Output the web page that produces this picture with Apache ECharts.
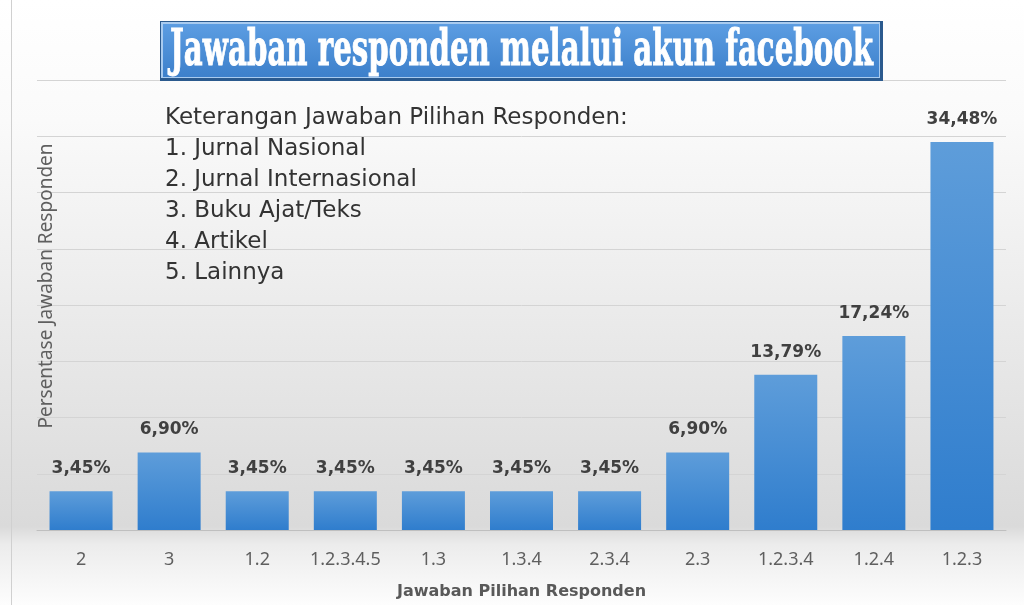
<!DOCTYPE html>
<html>
<head>
<meta charset="utf-8">
<script src="https://cdn.jsdelivr.net/npm/echarts@6/dist/echarts.min.js"></script>
<style>
  html, body { margin: 0; padding: 0; background: #fff; }
  #main { width: 1024px; height: 605px; }
</style>
</head>
<body>
<div id="main"></div>
<script>
// categories and percentages
const categories = ['2', '3', '1.2', '1.2.3.4.5', '1.3', '1.3.4', '2.3.4', '2.3', '1.2.3.4', '1.2.4', '1.2.3'];
const percentages = [3.45, 6.90, 3.45, 3.45, 3.45, 3.45, 3.45, 6.90, 13.79, 17.24, 34.48];
const legendLines = [
  'Keterangan Jawaban Pilihan Responden:',
  '1. Jurnal Nasional',
  '2. Jurnal Internasional',
  '3. Buku Ajat/Teks',
  '4. Artikel',
  '5. Lainnya'
];
const titleText = 'Jawaban responden melalui akun facebook';
const yName = 'Persentase Jawaban Responden';

const chart = echarts.init(document.getElementById('main'));

// squeeze the title into the box like the condensed font in the original
const titleFont = 'bold 51px "DejaVu Serif"';
const ctx = document.createElement('canvas').getContext('2d');
ctx.font = titleFont;
const titleScale = 703 / ctx.measureText(titleText).width;

chart.setOption({
  backgroundColor: {
    type: 'linear', x: 0, y: 0, x2: 0, y2: 1,
    colorStops: [
      { offset: 0, color: '#ffffff' },
      { offset: 0.2, color: '#fafafa' },
      { offset: 0.87, color: '#dadada' },
      { offset: 0.9, color: '#ececec' },
      { offset: 1, color: '#fdfdfd' }
    ]
  },
  grid: { left: 37, right: 18, top: 80, bottom: 74 },
  xAxis: {
    type: 'category',
    data: categories,
    axisLine: { lineStyle: { color: '#bfbfbf' } },
    axisTick: { show: false },
    axisLabel: { color: '#5f5f5f', fontSize: 18, margin: 21, interval: 0, fontFamily: 'Noto Sans' },
    name: 'Jawaban Pilihan Responden',
    nameLocation: 'middle',
    nameGap: 54,
    nameTextStyle: { color: '#595959', fontSize: 16, fontWeight: 'bold', fontFamily: 'DejaVu Sans' }
  },
  yAxis: {
    type: 'value',
    min: 0, max: 40, interval: 5,
    axisLabel: { show: false },
    axisLine: { show: false },
    axisTick: { show: false },
    splitLine: { lineStyle: { color: '#d4d4d4' } }
  },
  series: [{
    type: 'bar',
    data: percentages,
    barWidth: 63,
    itemStyle: {
      color: {
        type: 'linear', x: 0, y: 0, x2: 0, y2: 1,
        colorStops: [
          { offset: 0, color: '#5e9dda' },
          { offset: 1, color: '#2f7dcd' }
        ]
      }
    },
    label: {
      show: true,
      position: 'top',
      distance: 14,
      color: '#404040',
      fontSize: 17,
      fontWeight: 'bold',
      fontFamily: 'DejaVu Sans',
      formatter: p => p.value.toFixed(2).replace('.', ',') + '%'
    }
  }],
  graphic: [
    {
      type: 'rect',
      left: 11, top: 0,
      shape: { width: 1, height: 605 },
      style: { fill: '#d0d0d0' },
      silent: true
    },
    // title box with a simple bevel
    {
      type: 'rect',
      shape: { x: 160, y: 21, width: 723, height: 60 },
      style: { fill: '#2b5a8e' },
      z: 10
    },
    {
      type: 'rect',
      shape: { x: 161, y: 22, width: 719, height: 56 },
      style: { fill: '#a9cbef' },
      z: 10
    },
    {
      type: 'rect',
      shape: { x: 163, y: 24, width: 716, height: 53 },
      style: {
        fill: {
          type: 'linear', x: 0, y: 0, x2: 0, y2: 1,
          colorStops: [
            { offset: 0, color: '#5c9de2' },
            { offset: 1, color: '#3d80cb' }
          ]
        }
      },
      z: 10
    },
    {
      type: 'text',
      x: 170, y: 52,
      scaleX: titleScale,
      originX: 0,
      style: {
        text: titleText,
        font: titleFont,
        fill: '#ffffff',
        stroke: '#ffffff',
        lineWidth: 1,
        verticalAlign: 'middle'
      },
      z: 11
    },
    {
      type: 'text',
      left: 165, top: 103,
      style: {
        text: legendLines.join('\n'),
        fontSize: 23,
        fontFamily: 'DejaVu Sans',
        lineHeight: 31,
        fill: '#333333'
      },
      z: 10
    },
    {
      type: 'text',
      x: 47, y: 286,
      rotation: Math.PI / 2,
      style: {
        text: yName,
        fontSize: 19,
        fontFamily: 'Noto Sans',
        fill: '#5f5f5f',
        align: 'center',
        verticalAlign: 'middle'
      },
      z: 10
    }
  ]
});
</script>
</body>
</html>
